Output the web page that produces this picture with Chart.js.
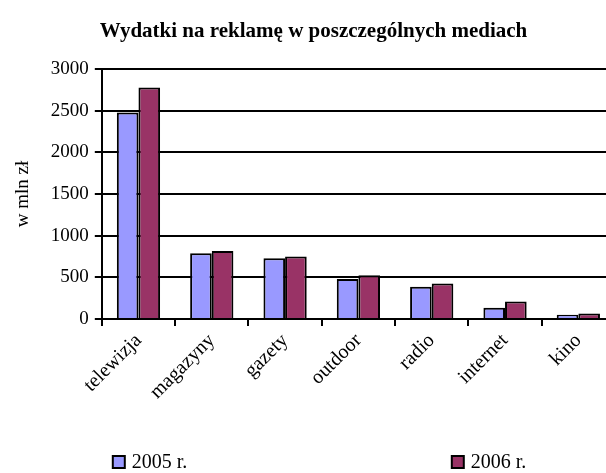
<!DOCTYPE html>
<html>
<head>
<meta charset="utf-8">
<script src="https://cdn.jsdelivr.net/npm/chart.js@4/dist/chart.umd.min.js"></script>
<style>
  html, body { margin: 0; padding: 0; background: #fff; overflow: hidden; }
  #wrap { width: 616px; height: 473px; position: relative; }
</style>
</head>
<body>
<div id="wrap"><canvas id="chart"></canvas></div>
<script>
const categories = ["telewizja", "magazyny", "gazety", "outdoor", "radio", "internet", "kino"];
const values2005 = [2480, 790, 730, 480, 385, 135, 50];
const values2006 = [2780, 815, 750, 525, 425, 210, 65];
const yTicks = [0, 500, 1000, 1500, 2000, 2500, 3000];

const serif = "'Liberation Serif', 'Times New Roman', serif";

// legend drawn by hand so the two items can sit far apart like the original
const spreadLegend = {
  id: "spreadLegend",
  afterDraw(chart) {
    const ctx = chart.ctx;
    const area = chart.chartArea;
    const xs = [area.left + 11, area.left + 350];
    const y = 462;
    ctx.save();
    ctx.font = "20px " + serif;
    ctx.textBaseline = "middle";
    chart.data.datasets.forEach((ds, i) => {
      const x = xs[i];
      ctx.fillStyle = ds.backgroundColor;
      ctx.fillRect(x, y - 6, 12, 12);
      ctx.lineWidth = 2;
      ctx.strokeStyle = "#000";
      ctx.strokeRect(x, y - 6, 12, 12);
      ctx.fillStyle = "#000";
      ctx.fillText(ds.label, x + 19, y + 1);
    });
    ctx.restore();
  }
};

new Chart(document.getElementById("chart"), {
  type: "bar",
  data: {
    labels: categories,
    datasets: [
      {
        label: "2005 r.",
        data: values2005,
        backgroundColor: "#9999ff",
        borderColor: "#000",
        borderWidth: 2,
        borderSkipped: "bottom",
      },
      {
        label: "2006 r.",
        data: values2006,
        backgroundColor: "#993366",
        borderColor: "#000",
        borderWidth: 2,
        borderSkipped: "bottom",
      },
    ],
  },
  options: {
    responsive: true,
    maintainAspectRatio: false,
    animation: false,
    categoryPercentage: 0.59,
    barPercentage: 1,
    layout: { padding: { left: 12, right: 1, bottom: 66 } },
    scales: {
      x: {
        offset: true,
        grid: {
          offset: true,
          drawOnChartArea: false,
          drawTicks: true,
          tickLength: 7,
          color: "#000",
          lineWidth: 2,
        },
        border: { display: true, color: "#000", width: 2 },
        ticks: {
          autoSkip: false,
          minRotation: 45,
          maxRotation: 45,
          color: "#000",
          font: { family: serif, size: 20 },
        },
      },
      y: {
        min: 0,
        max: 3000,
        afterBuildTicks: (axis) => {
          axis.ticks = yTicks.map((v) => ({ value: v }));
        },
        grid: { color: "#000", lineWidth: 2, tickLength: 7 },
        border: { display: true, color: "#000", width: 2 },
        ticks: {
          color: "#000",
          padding: 6,
          font: { family: serif, size: 19 },
          callback: (v) => String(v),
        },
        title: {
          display: true,
          text: "w mln zł",
          color: "#000",
          padding: { top: 0, bottom: 10 },
          font: { family: serif, size: 19 },
        },
      },
    },
    plugins: {
      legend: { display: false },
      tooltip: { enabled: false },
      title: {
        display: true,
        text: "Wydatki na reklamę w poszczególnych mediach",
        color: "#000",
        font: { family: serif, size: 21, weight: "bold" },
        padding: { top: 19, bottom: 25 },
      },
    },
  },
  plugins: [spreadLegend],
});
</script>
</body>
</html>
